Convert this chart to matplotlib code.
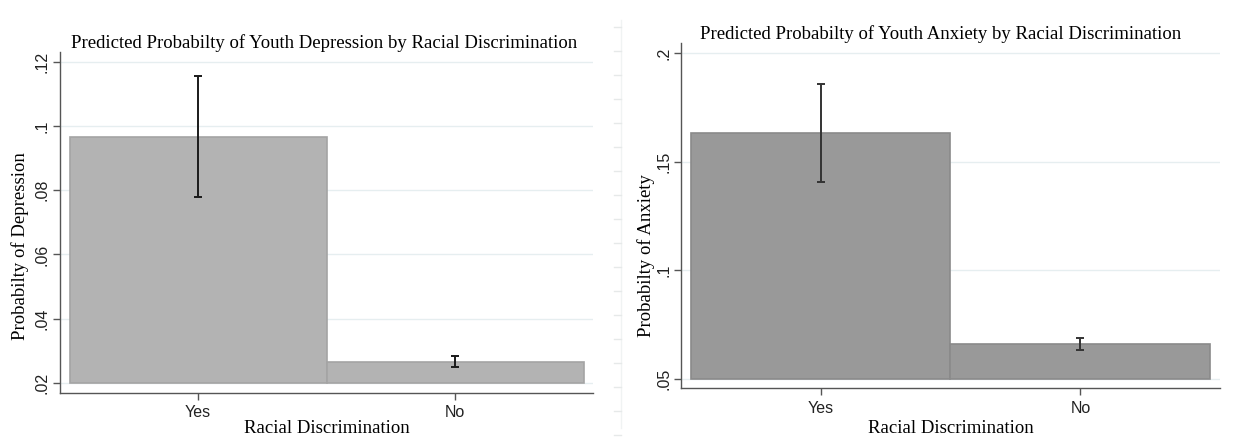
import numpy as np
import matplotlib
matplotlib.use("Agg")
import matplotlib.pyplot as plt
from matplotlib.lines import Line2D

# Data
categories = ["Yes", "No"]

dep_prob = [0.0967, 0.0266]
dep_lo = [0.0778, 0.0251]
dep_hi = [0.1156, 0.0284]
dep_ticks = [0.02, 0.04, 0.06, 0.08, 0.10, 0.12]
dep_ticklabels = [".02", ".04", ".06", ".08", ".1", ".12"]

anx_prob = [0.1632, 0.0661]
anx_lo = [0.1406, 0.0635]
anx_hi = [0.1860, 0.0687]
anx_ticks = [0.05, 0.10, 0.15, 0.20]
anx_ticklabels = [".05", ".1", ".15", ".2"]

SERIF = ["Liberation Serif", "DejaVu Serif"]
SANS = ["Liberation Sans", "DejaVu Sans"]
GRID = "#e6eef0"


def panel(ax, probs, lo, hi, base, ylim, ticks, ticklabels, title, ylabel,
          face, edge, errc, title_x=0.5, title_pad=3, xlabel_pad=1,
          ytick_pad=3, ylabel_pad=8, ylabel_y=0.5):
    x = np.arange(len(categories))
    heights = np.array(probs) - base
    ax.bar(x, heights, bottom=base, width=1.0, color=face, edgecolor=edge,
           linewidth=1.2, zorder=2)
    yerr = [np.array(probs) - np.array(lo), np.array(hi) - np.array(probs)]
    ax.errorbar(x, probs, yerr=yerr, fmt="none", ecolor=errc, elinewidth=1.4,
                capsize=2.7, capthick=1.4, zorder=3)
    ax.set_xlim(-0.537, 1.537)
    ax.set_ylim(*ylim)
    ax.set_xticks(x)
    ax.set_xticklabels(categories, family=SANS, fontsize=11.5)
    ax.set_yticks(ticks)
    ax.set_yticklabels(ticklabels, family=SANS, fontsize=11.5, rotation=90,
                       va="center")
    ax.yaxis.grid(True, color=GRID, linewidth=1.0, zorder=0)
    ax.set_axisbelow(True)
    for s in ["top", "right"]:
        ax.spines[s].set_visible(False)
    for s in ["left", "bottom"]:
        ax.spines[s].set_color("#555555")
        ax.spines[s].set_linewidth(1.0)
    ax.tick_params(axis="x", colors="#555555", labelcolor="#222222",
                   length=5, width=1.0, pad=4)
    ax.tick_params(axis="y", colors="#555555", labelcolor="#222222",
                   length=5, width=1.0, pad=ytick_pad)
    ax.set_title(title, family=SERIF, fontsize=13.5, pad=title_pad, x=title_x)
    ax.set_ylabel(ylabel, family=SERIF, fontsize=13.5, labelpad=ylabel_pad)
    ax.yaxis.label.set_y(ylabel_y)
    ax.set_xlabel("Racial Discrimination", family=SERIF, fontsize=13.5,
                  labelpad=xlabel_pad)


fig = plt.figure(figsize=(12.35, 4.37), dpi=100)
ax1 = fig.add_axes([0.0487, 0.1007, 0.4316, 0.781])
ax2 = fig.add_axes([0.5514, 0.1114, 0.4364, 0.7895])

panel(ax1, dep_prob, dep_lo, dep_hi, 0.02, (0.0169, 0.1231), dep_ticks,
      dep_ticklabels,
      "Predicted Probabilty of Youth Depression by Racial Discrimination",
      "Probabilty of Depression", "#b3b3b3", "#a4a4a4", "#1a1a1a",
      title_x=0.495, title_pad=1, xlabel_pad=0, ytick_pad=3, ylabel_pad=3.5,
      ylabel_y=0.43)
panel(ax2, anx_prob, anx_lo, anx_hi, 0.05, (0.0457, 0.2046), anx_ticks,
      anx_ticklabels,
      "Predicted Probabilty of Youth Anxiety by Racial Discrimination",
      "Probabilty of Anxiety", "#999999", "#8a8a8a", "#333333",
      title_x=0.482, title_pad=-4, xlabel_pad=3, ytick_pad=2, ylabel_pad=1,
      ylabel_y=0.386)

# faint ruler-like divider between the two panels
fx = 621 / 1235
fig.add_artist(Line2D([fx, fx], [0.02, 0.955], transform=fig.transFigure,
                      color="#f0f3f3", linewidth=1.0))
for yy in np.arange(27, 437, 24):
    yf = 1 - yy / 437
    fig.add_artist(Line2D([fx - 7 / 1235, fx], [yf, yf],
                          transform=fig.transFigure, color="#e6e9e9",
                          linewidth=1.0))

fig.savefig("out.png", dpi=100)
